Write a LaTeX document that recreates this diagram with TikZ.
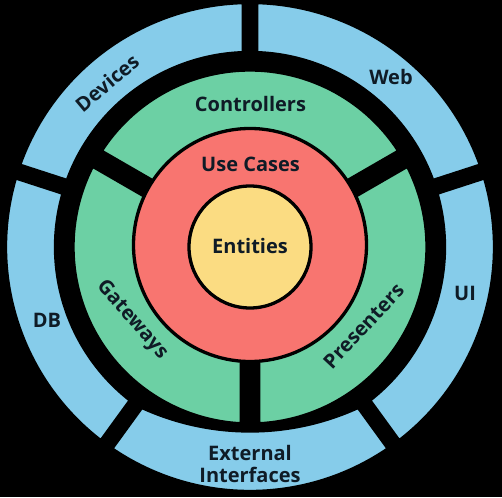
\documentclass[tikz,border=0pt]{standalone}
\usepackage{fontspec}
\setmainfont{Open Sans}
\definecolor{ringblue}{HTML}{86CCEA}
\definecolor{ringgreen}{HTML}{6CD0A4}
\definecolor{ringred}{HTML}{F87570}
\definecolor{ringyellow}{HTML}{FBDC82}
\definecolor{labelink}{HTML}{0F1B26}
% #1 fill, #2 start angle, #3 end angle, #4 inner r, #5 outer r, #6 half gap
\newcommand\ringseg[6]{%
  \pgfmathsetmacro\segai{#2+asin(#6/#4)}%
  \pgfmathsetmacro\segao{#2+asin(#6/#5)}%
  \pgfmathsetmacro\segbo{#3-asin(#6/#5)}%
  \pgfmathsetmacro\segbi{#3-asin(#6/#4)}%
  \draw[seg, fill=#1] (\segai:#4pt) -- (\segao:#5pt)
    arc[start angle=\segao, end angle=\segbo, radius=#5pt]
    -- (\segbi:#4pt)
    arc[start angle=\segbi, end angle=\segai, radius=#4pt] -- cycle;%
}
\begin{document}
\begin{tikzpicture}[x=1pt,y=1pt,
  seg/.style={draw=black, line width=3.3pt},
  lbl/.style={font=\fontsize{20}{22}\selectfont\bfseries, text=labelink, inner sep=0pt}]
\fill[black] (-250,-250) rectangle (252,247);
\useasboundingbox (-250,-250) rectangle (252,247);
% outer ring
\ringseg{ringblue}{18}{90}{194.5}{244.5}{6.75}
\ringseg{ringblue}{90}{162}{194.5}{244.5}{6.75}
\ringseg{ringblue}{162}{234}{194.5}{244.5}{6.75}
\ringseg{ringblue}{-54}{18}{194.5}{244.5}{6.75}
\draw[seg, fill=ringblue] (235.58:244.5pt)
  arc[start angle=235.58, end angle=304.42, radius=244.5pt]
  -- (108.21,-160.41)
  arc[start angle=294.60, end angle=245.40, radius=260pt] -- cycle;
% green ring
\ringseg{ringgreen}{30}{150}{100}{177}{8.75}
\ringseg{ringgreen}{150}{270}{100}{177}{8.75}
\ringseg{ringgreen}{270}{390}{100}{177}{8.75}
% red and yellow
\draw[seg, fill=ringred] (0,2) circle[radius=116.5pt];
\draw[seg, fill=ringyellow] (0,0) circle[radius=61pt];
% labels
\node[lbl, anchor=base] (controllers) at (0.5,135) {Controllers};
\node[lbl, anchor=base] (usecases) at (0.5,75.5) {Use Cases};
\node[lbl, anchor=base] (entities) at (0,-7) {Entities};
\node[lbl, anchor=base] (external) at (0,-213) {External};
\node[lbl, anchor=base] (interfaces) at (0,-235) {Interfaces};
\node[lbl, rotate=40] (devices) at (-143,164) {Devices};
\node[lbl] (web) at (141,170) {Web};
\node[lbl] (db) at (-203,-73) {DB};
\node[lbl] (ui) at (215,-46) {UI};
\node[lbl, rotate=-49] (gateways) at (-118,-73) {Gateways};
\node[lbl, rotate=47] (presenters) at (113.5,-79) {Presenters};
\end{tikzpicture}
\end{document}
